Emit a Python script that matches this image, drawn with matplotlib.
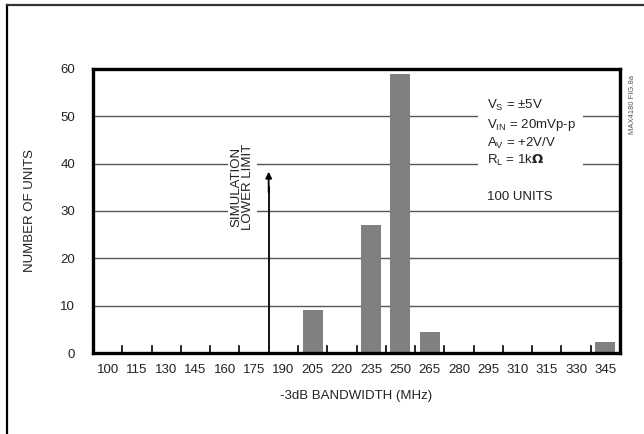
import matplotlib
matplotlib.use("Agg")
import matplotlib.pyplot as plt
from matplotlib.lines import Line2D
from matplotlib.patches import Rectangle

# Data
bandwidth_labels = ["100", "115", "130", "145", "160", "175", "190", "205", "220",
                    "235", "250", "265", "280", "295", "310", "315", "330", "345"]
units = [0, 0, 0, 0, 0, 0, 0, 9, 0, 27, 59, 4.5, 0, 0, 0, 0, 0, 2.3]
y_ticks = [0, 10, 20, 30, 40, 50, 60]
sim_limit_index = 5.5   # boundary between 175 and 190
conditions = [r"$\mathregular{V_S}$ = ±5V",
              r"$\mathregular{V_{IN}}$ = 20mVp-p",
              r"$\mathregular{A_V}$ = +2V/V",
              r"$\mathregular{R_L}$ = 1k$\mathbf{\Omega}$"]

plt.rcParams["font.family"] = ["Liberation Sans", "DejaVu Sans"]
plt.rcParams["font.size"] = 9.5

fig = plt.figure(figsize=(6.44, 4.34), dpi=100)
ax = fig.add_axes([93 / 644, 1 - 353 / 434, 527 / 644, 284 / 434])

x = list(range(len(bandwidth_labels)))
ax.bar(x, units, width=0.68, color="#808080", zorder=2)

ax.set_xlim(-0.5, len(bandwidth_labels) - 0.5)
ax.set_ylim(0, 60)
ax.set_yticks(y_ticks)
ax.set_xticks(x)
ax.set_xticklabels(bandwidth_labels)
ax.tick_params(axis="both", length=0, labelsize=9.5, colors="#222222")
ax.tick_params(axis="y", pad=13)
ax.tick_params(axis="x", pad=8)

# horizontal grid lines
for yv in y_ticks[1:-1]:
    ax.axhline(yv, color="#555555", lw=1.0, zorder=0)

# small inward ticks on category boundaries
for b in range(1, len(bandwidth_labels)):
    if b - 0.5 == sim_limit_index:
        continue
    ax.plot([b - 0.5, b - 0.5], [0, 1.4], color="black", lw=1.2, zorder=1)

for s in ax.spines.values():
    s.set_linewidth(2.4)
    s.set_color("black")

ax.set_xlabel("-3dB BANDWIDTH (MHz)", fontsize=9.5, labelpad=10, color="#222222")
ax.set_ylabel("NUMBER OF UNITS", fontsize=9.5, labelpad=17, color="#222222")

# simulation lower limit
ax.plot([sim_limit_index, sim_limit_index], [0, 35], color="black", lw=1.3, zorder=3)
ax.annotate("", xy=(sim_limit_index, 38.3), xytext=(sim_limit_index, 34),
            arrowprops=dict(arrowstyle="-|>", color="black", lw=1.3,
                            mutation_scale=9, shrinkA=0, shrinkB=0), zorder=3)
ax.text(4.6, 35, "SIMULATION\nLOWER LIMIT", rotation=90, ha="center", va="center",
        fontsize=9.5, linespacing=1.0, color="#222222",
        bbox=dict(facecolor="white", edgecolor="none", pad=2), zorder=3)

# test conditions
ax.add_patch(Rectangle((12.65, 38), 3.6, 17, facecolor="white", edgecolor="none", zorder=1))
cond_y = [52.4, 48.2, 44.3, 40.7]
for txt, yv in zip(conditions, cond_y):
    ax.text(12.96, yv, txt, ha="left", va="center", fontsize=9.5, color="#222222", zorder=3)
ax.text(12.96, 32.9, "100 UNITS", ha="left", va="center", fontsize=9.5,
        color="#222222", zorder=3)

fig.text(633 / 644, 1 - 104 / 434, "MAX4180 FIG.8a", rotation=90, ha="center",
         va="center", fontsize=5.5, color="#555555")

# outer frame (top and left)
fig.add_artist(Line2D([7 / 644, 7 / 644], [0, 1 - 5 / 434], color="black", lw=1.6))
fig.add_artist(Line2D([7 / 644, 1], [1 - 5 / 434, 1 - 5 / 434], color="#333333", lw=1.6))

fig.savefig("out.png", dpi=100)
